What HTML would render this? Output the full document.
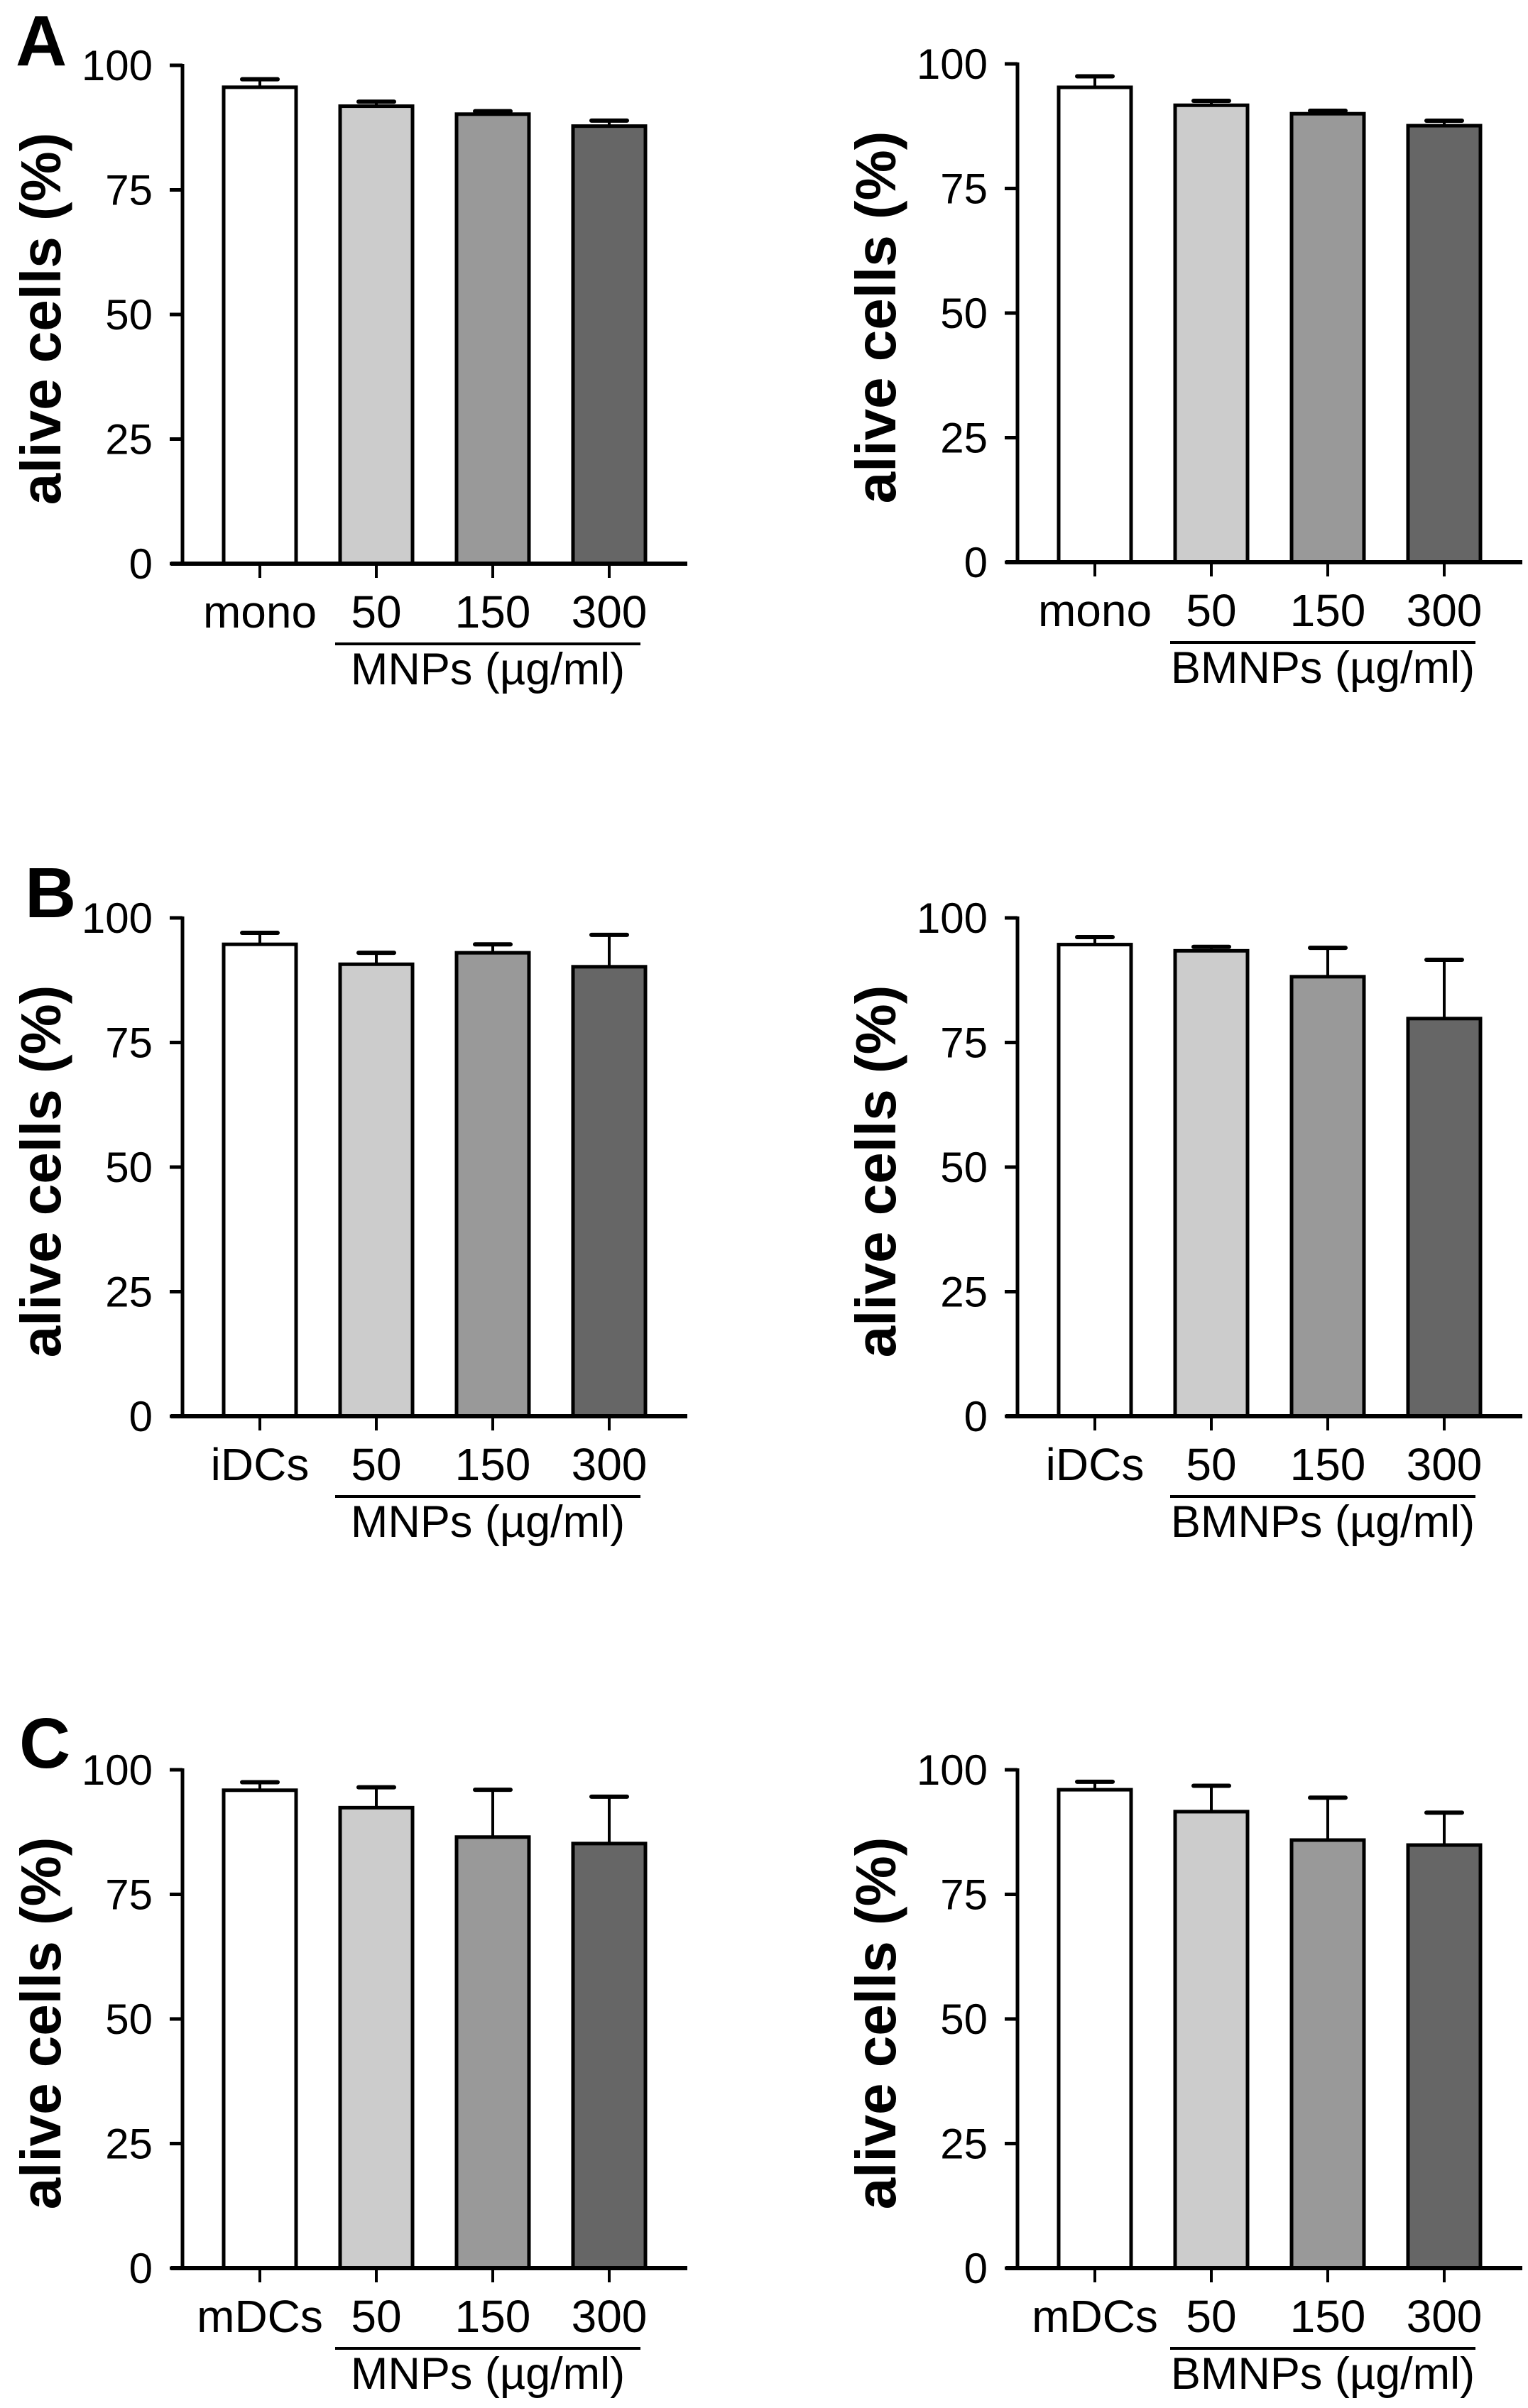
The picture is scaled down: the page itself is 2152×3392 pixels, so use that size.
<!DOCTYPE html>
<html>
<head>
<meta charset="utf-8">
<style>
  html, body { margin:0; padding:0; background:#fff; }
  svg { display:block; }
  text { font-family: "Liberation Sans", Arial, sans-serif; fill:#000; }
</style>
</head>
<body>
<svg id="fig" width="2152" height="3392" viewBox="0 0 2152 3392" xmlns="http://www.w3.org/2000/svg">
  <text x="22" y="92" font-size="100" font-weight="bold">A</text>
  <text x="35" y="1292" font-size="100" font-weight="bold">B</text>
  <text x="27" y="2490" font-size="100" font-weight="bold">C</text>
</svg>
<script>
// ---- data ----
const yTicks = [0, 25, 50, 75, 100];
const concLabels = ["50", "150", "300"];
const controlA = "mono";
const controlB = "iDCs";
const controlC = "mDCs";
const groupLeft = "MNPs (µg/ml)";
const groupRight = "BMNPs (µg/ml)";
const aLeftMean = [95.6, 91.8, 90.2, 87.8];
const aLeftErr  = [1.6, 0.9, 0.6, 1.1];
const aRightMean = [95.3, 91.7, 90.0, 87.6];
const aRightErr  = [2.2, 0.9, 0.6, 1.0];
const bLeftMean = [94.7, 90.7, 93.0, 90.2];
const bLeftErr  = [2.3, 2.3, 1.7, 6.4];
const bRightMean = [94.65, 93.4, 88.2, 79.8];
const bRightErr  = [1.5, 0.8, 5.8, 11.8];
const cLeftMean = [95.9, 92.4, 86.5, 85.2];
const cLeftErr  = [1.6, 4.1, 9.5, 9.4];
const cRightMean = [96.0, 91.6, 85.9, 84.9];
const cRightErr  = [1.6, 5.2, 8.5, 6.5];
const fills = ["#ffffff", "#cccccc", "#999999", "#666666"];

const svg = document.getElementById('fig');
const NS = "http://www.w3.org/2000/svg";
function mk(tag, attrs, parent) {
  const e = document.createElementNS(NS, tag);
  for (const k in attrs) e.setAttribute(k, attrs[k]);
  (parent || svg).appendChild(e);
  return e;
}

function panel(id, axisX, y0, control, group, means, errs) {
  const H = 702;
  const yScale = v => y0 - v / 100 * H;
  const xCenter = i => axisX + 109 + i * 164;
  const g = mk('g', {});
  
  

  const ty = y0 - 345, tx = axisX - 172;
  const title = mk('text', {x: tx, y: ty, 'font-size': 80, 'font-weight': 'bold', 'text-anchor': 'middle', transform: `rotate(-90 ${tx} ${ty})`}, g);
  title.textContent = "alive cells (%)";
  
  

  means.forEach((m, i) => {
    const cx = xCenter(i);
    const top = yScale(m);
    const r = mk('rect', {x: cx - 51, y: top, width: 102, height: y0 - top, fill: fills[i], stroke: '#000', 'stroke-width': 5}, g);
    
    
    const et = yScale(m + errs[i]);
    const el = mk('line', {x1: cx, x2: cx, y1: top, y2: et, stroke: '#000', 'stroke-width': 4}, g);
    
    
    const cap = mk('line', {x1: cx - 25, x2: cx + 25, y1: et, y2: et, stroke: '#000', 'stroke-width': 6, 'stroke-linecap': 'round'}, g);
    
    
  });

  const ya = mk('line', {x1: axisX, x2: axisX, y1: yScale(100) - 2, y2: y0, stroke: '#000', 'stroke-width': 5}, g);
  
  
  yTicks.forEach(t => {
    const yy = yScale(t);
    const tl = mk('line', {x1: axisX - 18, x2: axisX, y1: yy, y2: yy, stroke: '#000', 'stroke-width': 5}, g);
    
    
    const lb = mk('text', {x: axisX - 42, y: yy + 21, 'font-size': 60, 'text-anchor': 'end'}, g);
    lb.textContent = String(t);
    
    
  });

  const xa = mk('line', {x1: axisX - 16, x2: axisX + 711, y1: y0, y2: y0, stroke: '#000', 'stroke-width': 6}, g);
  
  
  const cats = [control].concat(concLabels);
  cats.forEach((c, i) => {
    const cx = xCenter(i);
    const tk = mk('line', {x1: cx, x2: cx, y1: y0, y2: y0 + 20, stroke: '#000', 'stroke-width': 4}, g);
    
    
    const lb = mk('text', {x: cx, y: y0 + 90, 'font-size': 64, 'text-anchor': 'middle'}, g);
    lb.textContent = c;
    
    
  });

  const bx1 = xCenter(1) - 58, bx2 = xCenter(3) + 44;
  const br = mk('line', {x1: bx1, x2: bx2, y1: y0 + 113, y2: y0 + 113, stroke: '#000', 'stroke-width': 4}, g);
  
  
  const gl = mk('text', {x: (bx1 + bx2) / 2, y: y0 + 170, 'font-size': 63, 'text-anchor': 'middle'}, g);
  gl.textContent = group;
  
  
}

panel('chart-a-mnps', 257, 794, controlA, groupLeft, aLeftMean, aLeftErr);
panel('chart-a-bmnps', 1433, 792, controlA, groupRight, aRightMean, aRightErr);
panel('chart-b-mnps', 257, 1995, controlB, groupLeft, bLeftMean, bLeftErr);
panel('chart-b-bmnps', 1433, 1995, controlB, groupRight, bRightMean, bRightErr);
panel('chart-c-mnps', 257, 3195, controlC, groupLeft, cLeftMean, cLeftErr);
panel('chart-c-bmnps', 1433, 3195, controlC, groupRight, cRightMean, cRightErr);
</script>
</body>
</html>
